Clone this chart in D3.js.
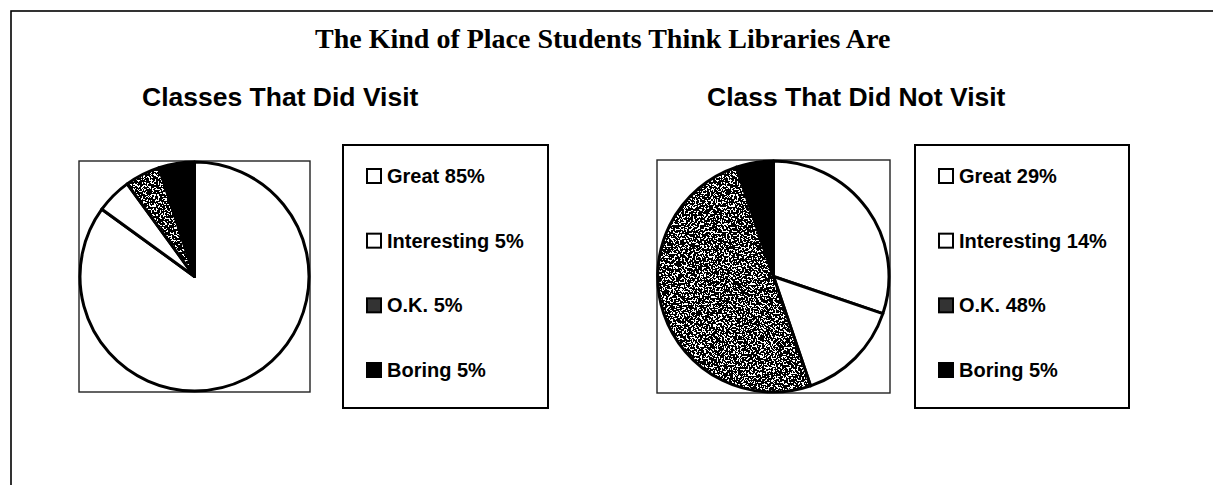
<!DOCTYPE html>
<html>
<head>
<meta charset="utf-8">
<script src="https://cdn.jsdelivr.net/npm/d3@7"></script>
<style>
  body { margin: 0; background: #fff; }
  .title { font-family: "Liberation Serif", "Times New Roman", serif; font-weight: bold; font-size: 28px; }
  .subtitle { font-family: "Liberation Sans", Arial, sans-serif; font-weight: bold; font-size: 26.5px; }
  .legendText { font-family: "Liberation Sans", Arial, sans-serif; font-weight: bold; font-size: 20px; }
</style>
</head>
<body>
<div id="chart"></div>
<script>
// data
var categories = ["Great", "Interesting", "O.K.", "Boring"];
var visitValues = [85, 5, 5, 5];
var noVisitValues = [29, 14, 48, 5];
var panelTitles = ["Classes That Did Visit", "Class That Did Not Visit"];
var chartTitle = "The Kind of Place Students Think Libraries Are";

var svgWidth = 1213;
var svgHeight = 485;

var svg = d3.select("#chart")
  .append("svg")
  .attr("width", svgWidth)
  .attr("height", svgHeight);

// noise filter for the stippled "O.K." slice
var defs = svg.append("defs");
var filter = defs.append("filter")
  .attr("id", "stipple")
  .attr("x", 0).attr("y", 0)
  .attr("width", "100%").attr("height", "100%");
filter.append("feTurbulence")
  .attr("type", "fractalNoise")
  .attr("baseFrequency", 0.55)
  .attr("numOctaves", 2)
  .attr("seed", 7)
  .attr("result", "noise");
filter.append("feColorMatrix")
  .attr("in", "noise")
  .attr("type", "matrix")
  .attr("values", "0 0 0 0 0  0 0 0 0 0  0 0 0 0 0  1 0 0 0 0")
  .attr("result", "alpha");
var ct = filter.append("feComponentTransfer")
  .attr("in", "alpha")
  .attr("result", "dots");
ct.append("feFuncA")
  .attr("type", "discrete")
  .attr("tableValues", "0 0 0 0 0 0 0 0 0 1 1 1 1 1 1 1 1 1 1 1");
filter.append("feComposite")
  .attr("in", "dots")
  .attr("in2", "SourceAlpha")
  .attr("operator", "in");

var fills = {"Great": "#fff", "Interesting": "#fff", "O.K.": "stipple", "Boring": "#000"};

// outer frame
svg.append("rect")
  .attr("x", 11).attr("y", 11)
  .attr("width", 1215).attr("height", 480)
  .attr("fill", "none")
  .attr("stroke", "#000")
  .attr("stroke-width", 1.6);

svg.append("text")
  .attr("class", "title")
  .attr("x", 315)
  .attr("y", 48)
  .text(chartTitle);

var panels = [
  {values: visitValues, title: panelTitles[0], titleX: 142, cx: 194.5, cy: 276.5, box: 231, legendX: 343, legendW: 205},
  {values: noVisitValues, title: panelTitles[1], titleX: 707, cx: 773.5, cy: 276.5, box: 233, legendX: 915, legendW: 214}
];

var pie = d3.pie().sort(null).value(d => d.value);

// legend rows
var rowY = d3.scalePoint()
  .domain(categories)
  .range([183, 377]);

panels.forEach(function(p) {
  var g = svg.append("g");

  g.append("text")
    .attr("class", "subtitle")
    .attr("x", p.titleX)
    .attr("y", 106)
    .text(p.title);

  // square behind the pie
  g.append("rect")
    .attr("x", p.cx - p.box / 2)
    .attr("y", p.cy - p.box / 2)
    .attr("width", p.box)
    .attr("height", p.box)
    .attr("fill", "#fff")
    .attr("stroke", "#222")
    .attr("stroke-width", 1.4);

  var radius = p.box / 2 - 1;
  var arc = d3.arc().innerRadius(0).outerRadius(radius);
  var data = categories.map((c, i) => ({cat: c, value: p.values[i]}));

  var pieG = g.append("g")
    .attr("transform", `translate(${p.cx}, ${p.cy})`);

  var slices = pieG.selectAll("g.slice")
    .data(pie(data))
    .enter()
    .append("g")
    .attr("class", "slice");

  slices.append("path")
    .attr("d", arc)
    .attr("fill", d => fills[d.data.cat] === "stipple" ? "#fff" : fills[d.data.cat]);

  slices.filter(d => fills[d.data.cat] === "stipple")
    .append("path")
    .attr("d", arc)
    .attr("fill", "#000")
    .attr("filter", "url(#stipple)");

  slices.append("path")
    .attr("d", arc)
    .attr("fill", "none")
    .attr("stroke", "#000")
    .attr("stroke-width", 3)
    .attr("stroke-linejoin", "round");

  // legend box
  g.append("rect")
    .attr("x", p.legendX)
    .attr("y", 145)
    .attr("width", p.legendW)
    .attr("height", 263)
    .attr("fill", "#fff")
    .attr("stroke", "#000")
    .attr("stroke-width", 2);

  var items = g.selectAll("g.item")
    .data(data)
    .enter()
    .append("g")
    .attr("class", "item")
    .attr("transform", d => `translate(${p.legendX + 24}, ${rowY(d.cat)})`);

  items.append("rect")
    .attr("x", 0)
    .attr("y", -14)
    .attr("width", 14)
    .attr("height", 14)
    .attr("fill", d => fills[d.cat] === "stipple" ? "#333" : fills[d.cat])
    .attr("stroke", "#000")
    .attr("stroke-width", 2);

  items.append("text")
    .attr("class", "legendText")
    .attr("x", 20)
    .attr("y", 0)
    .text(d => `${d.cat} ${d.value}%`);
});
</script>
</body>
</html>
